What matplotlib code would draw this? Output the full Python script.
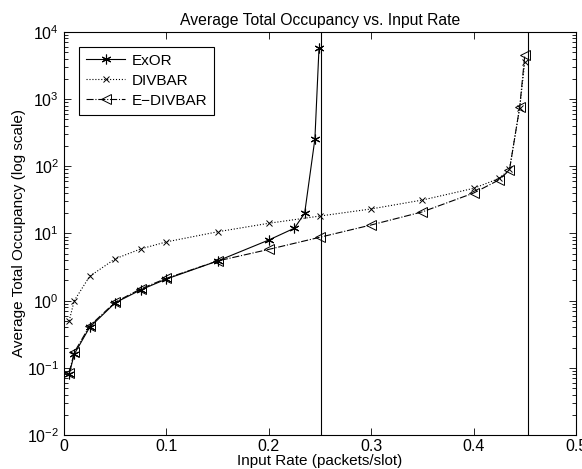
import matplotlib
matplotlib.use("Agg")
import matplotlib.pyplot as plt
from matplotlib.ticker import LogLocator, FixedLocator, NullFormatter

plt.rcParams['font.family'] = ['Liberation Sans', 'DejaVu Sans']
plt.rcParams['mathtext.fontset'] = 'custom'
plt.rcParams['mathtext.rm'] = 'Liberation Sans'

# Data
x_exor = [0.005, 0.01, 0.025, 0.05, 0.075, 0.1, 0.15, 0.2, 0.225, 0.235, 0.245, 0.249]
exor = [0.08, 0.16, 0.40, 0.93, 1.45, 2.1, 3.9, 8.0, 12.0, 20.0, 255.0, 5700.0]

x_div = [0.005, 0.01, 0.025, 0.05, 0.075, 0.1, 0.15, 0.2, 0.25, 0.3, 0.35, 0.4, 0.425, 0.435, 0.445, 0.45]
divbar = [0.5, 1.0, 2.3, 4.2, 5.9, 7.5, 10.6, 14.2, 18.2, 23.2, 31.5, 47, 66, 90, 740, 3600]
edivbar = [0.085, 0.17, 0.42, 0.95, 1.5, 2.15, 3.9, 5.8, 8.8, 13.4, 21, 40, 63, 88, 757, 4550]

vlines_x = [0.251, 0.453]
x_ticks = [0, 0.1, 0.2, 0.3, 0.4, 0.5]
x_ticklabels = ['0', '0.1', '0.2', '0.3', '0.4', '0.5']

fig = plt.figure(figsize=(5.82, 4.69), dpi=100)
ax = fig.add_axes([0.110, 0.0725, 0.8797, 0.8593])

lw = 0.8
ax.plot(x_exor, exor, '-', color='k', lw=lw, marker=(6, 2, 0), ms=7, mew=0.8, label='ExOR')
ax.plot(x_div, divbar, ':', color='k', lw=lw, marker='x', ms=4.5, mew=0.7, label='DIVBAR')
ax.plot(x_div, edivbar, '-.', color='k', lw=lw, marker='<', ms=6.5, mew=0.7,
        fillstyle='none', label='E\u2212DIVBAR')
for xv in vlines_x:
    ax.axvline(xv, color='k', lw=lw)

ax.set_yscale('log')
ax.set_xlim(0, 0.5)
ax.set_ylim(1e-2, 1e4)
ax.xaxis.set_major_locator(FixedLocator(x_ticks))
ax.set_xticklabels(x_ticklabels)
ax.yaxis.set_major_locator(LogLocator(base=10, numticks=10))
ax.yaxis.set_minor_locator(LogLocator(base=10, subs=range(2, 10), numticks=20))
ax.yaxis.set_minor_formatter(NullFormatter())

ax.tick_params(which='both', direction='in', top=True, right=True, labelsize=11.5, width=0.6)
ax.tick_params(axis='x', pad=3)
ax.tick_params(which='major', length=5)
ax.tick_params(which='minor', length=3)
for s in ax.spines.values():
    s.set_linewidth(0.8)

ax.set_title('Average Total Occupancy vs. Input Rate', fontsize=11.3, pad=5)
ax.set_xlabel('Input Rate (packets/slot)', fontsize=11, labelpad=0)
ax.set_ylabel('Average Total Occupancy (log scale)', fontsize=11, labelpad=1)

leg = ax.legend(loc='upper left', bbox_to_anchor=(0.029, 0.9635), borderaxespad=0,
                fontsize=11, fancybox=False, edgecolor='k', framealpha=1,
                handlelength=2.6, handletextpad=0.4, borderpad=0.45, labelspacing=0.4)
leg.get_frame().set_linewidth(0.8)

fig.savefig('out.png', dpi=100)
